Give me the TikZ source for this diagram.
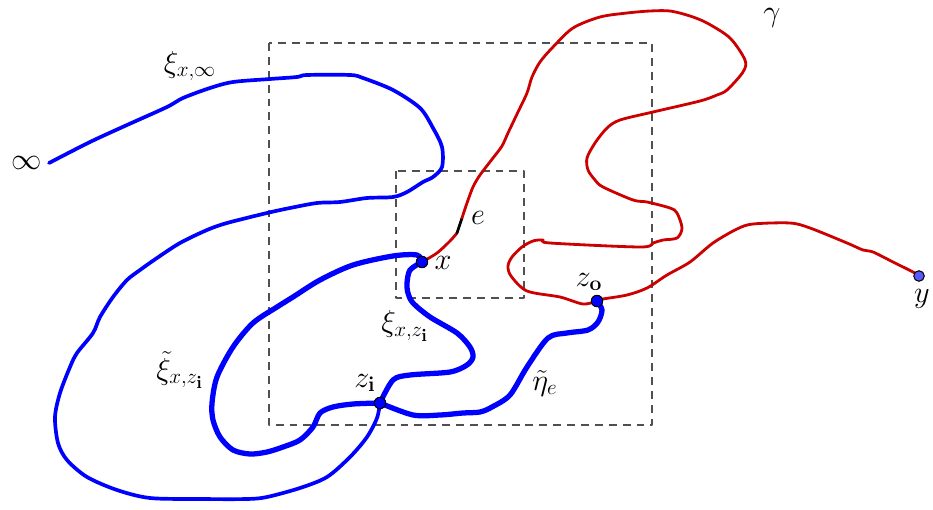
\documentclass[tikz,border=0pt]{standalone}
\usepackage{amsmath}
\usepackage{amssymb}
\usetikzlibrary{positioning, calc}

\definecolor{gammared}{RGB}{204,0,0}
\definecolor{boxgray}{RGB}{80,80,80}

\begin{document}
\begin{tikzpicture}[x=0.02cm, y=-0.02cm, line join=round, line cap=round,
    frame/.style={draw=boxgray, line width=1.3pt, dash pattern=on 4.5pt off 3.4pt, line cap=butt},
    gammapath/.style={draw=gammared, line width=1.6pt},
    thinpath/.style={draw=blue, line width=2.1pt},
    thickpath/.style={draw=blue, line width=3pt},
    dot/.style={circle, fill=blue, draw=black, line width=0.6pt, inner sep=0pt, minimum size=6.5pt},
    lbl/.style={font=\LARGE, inner sep=1pt}]
    \useasboundingbox (0,0) rectangle (933,510);

    % Boxes
    \draw[frame] (269,43) rectangle (652,425);
    \draw[frame] (396,171) rectangle (524,298);

    % Points
    \coordinate (x) at (422,262);
    \coordinate (zi) at (380,403);
    \coordinate (zo) at (597,301);
    \coordinate (y) at (919,276);
    \coordinate (inf) at (49,163);
    \coordinate (e0) at (457,233);
    \coordinate (e1) at (462,218);

    % xi_{x,infty}
    \draw[thinpath] plot[smooth, tension=0.5] coordinates {(inf) (90,142) (127,125) (167,107) (183,98)
        (210,88) (233,82) (270,79) (297,77) (307,75) (350,75) (363,78) (393,90) (420,108) (433,128)
        (442,147) (442,167) (433,177) (423,182) (407,192) (393,197) (367,198) (340,202) (317,203)
        (290,208) (267,213) (227,223) (207,230) (180,243) (157,258) (140,270) (127,280) (113,297)
        (100,317) (93,333) (77,353) (70,367) (60,393) (55,417) (58,443) (67,460) (87,477) (117,490)
        (150,498) (200,499) (247,499) (267,497) (300,488) (327,477) (350,457) (367,437) (377,418) (zi)};

    % xi_{x,z_i}
    \draw[thickpath] plot[smooth, tension=0.5] coordinates {(x) (410,270) (407,283) (408,293)
        (413,303) (430,317) (457,333) (470,347) (473,357) (467,365) (450,372) (410,375) (393,380) (zi)};

    % tilde xi_{x,z_i}
    \draw[thickpath] plot[smooth, tension=0.5] coordinates {(x) (417,255) (393,256) (353,265)
        (320,280) (293,297) (277,307) (253,323) (233,347) (217,377) (212,403) (213,420) (220,437)
        (233,450) (250,454) (267,452) (283,447) (300,440) (313,427) (320,413) (333,407) (353,404) (zi)};

    % tilde eta_e
    \draw[thickpath] plot[smooth, tension=0.5] coordinates {(zi) (413,415) (440,415) (463,413)
        (480,412) (492,407) (510,395) (527,367) (548,338) (567,333) (588,330) (598,322) (602,310) (zo)};

    % gamma
    \draw[gammapath] plot[smooth, tension=0.5] coordinates {(x) (437,253) (450,241) (e0)};
    \draw[black, line width=1.6pt] (e0) -- (e1);
    \draw[gammapath] plot[smooth, tension=0.5] coordinates {(e1) (467,203) (473,187) (480,175)
        (493,158) (502,146) (508,133) (518,112) (527,93) (532,77) (540,62) (553,47) (573,28)
        (600,17) (627,13) (650,11) (670,11) (690,16) (707,23) (730,38) (745,60) (743,72) (727,90)
        (717,95) (700,101) (653,112) (620,120) (607,128) (595,143) (587,158) (588,170) (595,180)
        (603,187) (633,200) (647,202) (670,208) (677,213) (682,228) (677,238) (663,240) (653,243)
        (640,247) (550,243) (543,240) (533,241) (522,247) (512,257) (508,266) (511,276) (527,291)
        (560,297) (583,304) (zo) (603,299) (627,295) (647,288) (667,275) (690,262) (713,243)
        (737,229) (753,224) (790,223) (810,228) (847,243) (863,250) (873,252) (893,262) (913,272) (y)};

    % Dots
    \node[dot] (dx) at (x) {};
    \node[dot] (dzi) at (zi) {};
    \node[dot] (dzo) at (zo) {};
    \node[dot, fill=blue!65, minimum size=6pt] (dy) at (y) {};

    % Labels
    \node[lbl] (linf) at (27,163) {$\infty$};
    \node[lbl] (lxiinf) at (190,66) {$\xi_{x,\infty}$};
    \node[lbl] (lgamma) at (772,18) {$\gamma$};
    \node[lbl] (le) at (478,218) {$e$};
    \node[lbl] (lx) at (443,263) {$x$};
    \node[lbl] (lxizi) at (405,326) {$\xi_{x,z_{\mathbf{i}}}$};
    \node[lbl] (ltxizi) at (180,370) {$\tilde{\xi}_{x,z_{\mathbf{i}}}$};
    \node[lbl] (lzi) at (365,383) {$z_{\mathbf{i}}$};
    \node[lbl] (lzo) at (589,282) {$z_{\mathbf{o}}$};
    \node[lbl] (leta) at (545,383) {$\tilde{\eta}_e$};
    \node[lbl] (ly) at (922,299) {$y$};
\end{tikzpicture}
\end{document}
